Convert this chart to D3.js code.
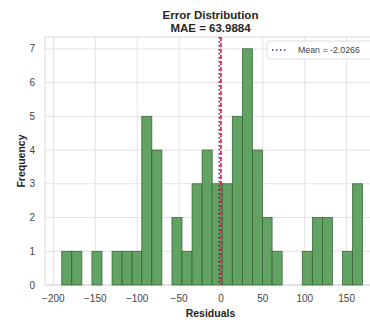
<!DOCTYPE html>
<html><head><meta charset="utf-8">
<script src="https://cdn.jsdelivr.net/npm/d3@7"></script>
<style>html,body{margin:0;padding:0;background:#fff;overflow:hidden}</style>
</head><body><svg id="c" width="370" height="324"></svg>
<script>
// Bin edges (residual values) and counts
const binEdges = [-190, -178, -166, -154, -142, -130, -118, -106, -94.5, -82.5, -70.5, -58.5, -46.5, -34.5, -22.5, -10.5, 1.5, 13.5, 25.5, 37.5, 49.5, 61, 73, 85, 97, 109, 121, 133, 145, 157, 169];
const counts   = [1, 1, 0, 1, 0, 1, 1, 1, 5, 4, 0, 2, 1, 3, 4, 3, 3, 5, 7, 4, 2, 1, 0, 0, 1, 2, 2, 0, 1, 3];
const xTicks = [-200, -150, -100, -50, 0, 50, 100, 150];
const yTicks = [0, 1, 2, 3, 4, 5, 6, 7];
const meanValue = -2.0266;
const zeroValue = 0;
const titleLines = ["Error Distribution", "MAE = 63.9884"];

const svg = d3.select("#c");
const L = 45, R = 376, T = 37, B = 285;
const x = d3.scaleLinear().domain([-210, 185]).range([L, R]);
const y = d3.scaleLinear().domain([0, 7.35]).range([B, T]);
const font = "'Liberation Sans', Arial, sans-serif";

// grid
const g = svg.append("g");
g.selectAll("line.vg").data(xTicks).join("line")
  .attr("x1", d => x(d)).attr("x2", d => x(d)).attr("y1", T).attr("y2", B)
  .attr("stroke", "#dcdcdc").attr("stroke-width", 0.8);
g.selectAll("line.hg").data(yTicks).join("line")
  .attr("x1", L).attr("x2", R).attr("y1", d => y(d)).attr("y2", d => y(d))
  .attr("stroke", "#dcdcdc").attr("stroke-width", 0.8);
// frame
g.append("rect").attr("x", L).attr("y", T).attr("width", R - L).attr("height", B - T)
  .attr("fill", "none").attr("stroke", "#d0d0d0").attr("stroke-width", 0.8);

// bars
const bins = counts.map((c, i) => ({x0: binEdges[i], x1: binEdges[i + 1], c}));
svg.append("g").selectAll("rect").data(bins.filter(b => b.c > 0)).join("rect")
  .attr("x", d => x(d.x0)).attr("width", d => x(d.x1) - x(d.x0))
  .attr("y", d => y(d.c)).attr("height", d => y(0) - y(d.c))
  .attr("fill", "#62a262").attr("stroke", "#2f5f2f").attr("stroke-width", 0.7);

// vertical lines
svg.append("line").attr("x1", x(zeroValue)).attr("x2", x(zeroValue)).attr("y1", T).attr("y2", B)
  .attr("stroke", "#e0185a").attr("stroke-width", 1.6).attr("stroke-dasharray", "4,2");
svg.append("line").attr("x1", x(meanValue)).attr("x2", x(meanValue)).attr("y1", T).attr("y2", B)
  .attr("stroke", "#2a2a80").attr("stroke-width", 1.4).attr("stroke-dasharray", "1.4,2.6");

// axes tick labels
svg.append("g").selectAll("text").data(xTicks).join("text")
  .attr("x", d => x(d)).attr("y", 302).attr("text-anchor", "middle")
  .attr("font-family", font).attr("font-size", 10).attr("fill", "#444")
  .text(d => d < 0 ? "\u2212" + Math.abs(d) : d);
svg.append("g").selectAll("text").data(yTicks).join("text")
  .attr("x", 35).attr("y", d => y(d) + 3.5).attr("text-anchor", "end")
  .attr("font-family", font).attr("font-size", 10).attr("fill", "#444")
  .text(d => d);

// axis labels
svg.append("text").attr("x", (L + R) / 2).attr("y", 317).attr("text-anchor", "middle")
  .attr("font-family", font).attr("font-size", 10.5).attr("font-weight", "bold").attr("fill", "#262626")
  .text("Residuals");
svg.append("text").attr("transform", `translate(25,${(T + B) / 2}) rotate(-90)`).attr("text-anchor", "middle")
  .attr("font-family", font).attr("font-size", 10.5).attr("font-weight", "bold").attr("fill", "#262626")
  .text("Frequency");

// title
svg.append("g").selectAll("text").data(titleLines).join("text")
  .attr("x", (L + R) / 2).attr("y", (d, i) => 19 + i * 13).attr("text-anchor", "middle")
  .attr("font-family", font).attr("font-size", 11.5).attr("font-weight", "bold").attr("fill", "#262626")
  .text(d => d);

// legend
const lg = svg.append("g");
lg.append("rect").attr("x", 267).attr("y", 41).attr("width", 106).attr("height", 18).attr("rx", 2)
  .attr("fill", "#fff").attr("fill-opacity", 0.85).attr("stroke", "#d8d8d8").attr("stroke-width", 0.8);
lg.append("line").attr("x1", 272).attr("x2", 287).attr("y1", 50).attr("y2", 50)
  .attr("stroke", "#2a2a80").attr("stroke-width", 1.4).attr("stroke-dasharray", "1.4,2.6");
lg.append("text").attr("x", 298).attr("y", 53).attr("font-family", font).attr("font-size", 8.8)
  .attr("fill", "#444").text("Mean = -" + Math.abs(meanValue).toFixed(4));
</script></body></html>
